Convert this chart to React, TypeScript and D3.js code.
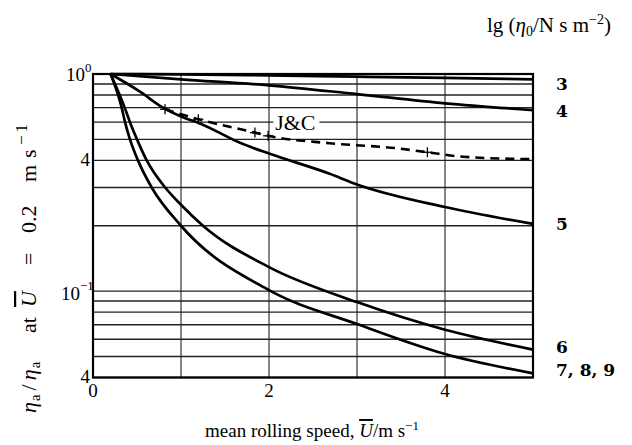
import React from "react";
import * as d3 from "d3";

// Speeds (m/s) and relative viscosity η_a/η_a(0.2 m/s) for each lg η0 family
const curve3X = [0.2, 1, 2, 3, 4, 5];
const curve3Y = [1.0, 0.995, 0.985, 0.972, 0.96, 0.945];

const curve4X = [0.2, 1, 2, 3, 4, 5];
const curve4Y = [1.0, 0.945, 0.887, 0.808, 0.733, 0.682];

const curve5X = [0.2, 0.534, 0.795, 1.0, 1.216, 1.67, 2, 2.69, 3, 4, 5];
const curve5Y = [1.0, 0.829, 0.70, 0.637, 0.592, 0.482, 0.43, 0.347, 0.31, 0.244, 0.204];

const curve6X = [0.2, 0.36, 0.42, 0.5, 0.61, 0.82, 1.0, 1.25, 2, 3, 4, 5];
const curve6Y = [1.0, 0.7, 0.6, 0.5, 0.4, 0.3, 0.25, 0.2, 0.129, 0.089, 0.0664, 0.0538];

const curve7X = [0.2, 0.326, 0.364, 0.42, 0.511, 0.667, 1.0, 2, 3, 4, 5];
const curve7Y = [1.0, 0.7, 0.6, 0.5, 0.4, 0.3, 0.2, 0.101, 0.0705, 0.0513, 0.0418];

// J&C measured points (crosses) and the dashed line through them
const jcX = [0.818, 1.197, 1.84, 1.99, 3.8];
const jcY = [0.688, 0.619, 0.537, 0.519, 0.436];
const jcLineX = [0.818, 1.197, 1.84, 1.99, 2.69, 3.45, 3.8, 4.2, 5];
const jcLineY = [0.688, 0.619, 0.537, 0.519, 0.48, 0.455, 0.436, 0.416, 0.405];

const xTicks = [0, 2, 4];
const xGrid = [1, 2, 3, 4];
const yGrid = [1, 0.9, 0.8, 0.7, 0.6, 0.5, 0.4, 0.3, 0.2, 0.1, 0.09, 0.08, 0.07, 0.06, 0.05, 0.04];

// lg η0 family labels at the right edge, with the level each is centred on
const curveLabels = ["3", "4", "5", "6", "7, 8, 9"];
const curveLabelY = [0.9, 0.676, 0.204, 0.0553, 0.0433];

const serif = "'Liberation Serif', 'Times New Roman', serif";
const boldSerif = "'DejaVu Serif', serif";

export default function App() {
  const W = 632;
  const H = 445;
  const x = d3.scaleLinear().domain([0, 5]).range([93, 533]);
  const y = d3.scaleLog().domain([0.04, 1]).range([377.5, 74]);

  const line = d3
    .line<[number, number]>()
    .x((d) => x(d[0]))
    .y((d) => y(d[1]))
    .curve(d3.curveMonotoneX);

  const zip = (xs: number[], ys: number[]) => xs.map((v, i) => [v, ys[i]] as [number, number]);

  const solid = [
    zip(curve3X, curve3Y),
    zip(curve4X, curve4Y),
    zip(curve5X, curve5Y),
    zip(curve6X, curve6Y),
    zip(curve7X, curve7Y),
  ];

  const [x0, x1] = x.range();
  const [yb, yt] = y.range();

  return (
    <svg
      width={W}
      height={H}
      viewBox={`0 0 ${W} ${H}`}
      style={{ position: "absolute", left: 0, top: 0, background: "#fff" }}
    >
      {/* horizontal grid */}
      {yGrid.map((v) => (
        <line key={"h" + v} x1={x0} x2={x1} y1={y(v)} y2={y(v)} stroke="#222" strokeWidth={1.4} />
      ))}
      {/* vertical grid */}
      {xGrid.map((v) => (
        <line key={"v" + v} x1={x(v)} x2={x(v)} y1={yt} y2={yb} stroke="#222" strokeWidth={1.1} />
      ))}
      {/* frame */}
      <rect x={x0} y={yt} width={x1 - x0} height={yb - yt} fill="none" stroke="#000" strokeWidth={2.2} />

      {/* J&C label over the grid */}
      <rect x={x(2.05)} y={y(0.6) - 10} width={46} height={20} fill="#fff" />
      <text x={x(2.07)} y={y(0.6) + 8} fontFamily={serif} fontSize={22} fill="#000">
        J&amp;C
      </text>

      {/* dashed J&C line */}
      <path
        d={line(zip(jcLineX, jcLineY)) || ""}
        fill="none"
        stroke="#000"
        strokeWidth={2.6}
        strokeDasharray="9 6"
      />
      {zip(jcX, jcY).map(([a, b], i) => (
        <g key={"c" + i} transform={`translate(${x(a)},${y(b)})`}>
          <line x1={-5} x2={5} y1={0} y2={0} stroke="#000" strokeWidth={1.3} />
          <line x1={0} x2={0} y1={-5} y2={5} stroke="#000" strokeWidth={1.3} />
        </g>
      ))}

      {/* solid curves */}
      {solid.map((pts, i) => (
        <path key={"s" + i} d={line(pts) || ""} fill="none" stroke="#000" strokeWidth={2.7} />
      ))}

      {/* y tick labels */}
      <text x={85} y={81} textAnchor="end" fontFamily={serif} fontSize={19}>10</text>
      <text x={85} y={72} fontFamily={serif} fontSize={13}>0</text>
      <text x={90} y={y(0.4) + 6} textAnchor="end" fontFamily={serif} fontSize={19}>4</text>
      <text x={80} y={y(0.1) + 9} textAnchor="end" fontFamily={serif} fontSize={19}>10</text>
      <text x={80} y={y(0.1) - 1} fontFamily={serif} fontSize={13}>−1</text>
      <text x={90} y={yb + 5} textAnchor="end" fontFamily={serif} fontSize={19}>4</text>

      {/* x tick labels */}
      {xTicks.map((v) => (
        <text key={"xt" + v} x={x(v)} y={397} textAnchor="middle" fontFamily={serif} fontSize={19}>
          {v}
        </text>
      ))}

      {/* curve family labels */}
      {curveLabels.map((t, i) => (
        <text
          key={"cl" + i}
          x={556}
          y={y(curveLabelY[i]) + 6}
          fontFamily={boldSerif}
          fontWeight="bold"
          fontSize={17}
        >
          {t}
        </text>
      ))}

      {/* header for the family labels */}
      <text x={487} y={32} fontFamily={serif} fontSize={21}>
        lg (<tspan fontStyle="italic">η</tspan>
        <tspan fontSize={14} dy={4}>0</tspan>
        <tspan dy={-4}>/N s m</tspan>
        <tspan fontSize={14} dy={-8}>−2</tspan>
        <tspan dy={8}>)</tspan>
      </text>

      {/* x axis title */}
      <text x={312} y={437} textAnchor="middle" fontFamily={serif} fontSize={19}>
        mean rolling speed,{" "}
        <tspan fontStyle="italic" textDecoration="overline">U</tspan>/m s
        <tspan fontSize={13} dy={-7}>−1</tspan>
      </text>

      {/* y axis title, laid out bottom-to-top */}
      <g transform="translate(36,0) rotate(-90)" fontFamily={serif} fontSize={22}>
        <text x={-413} y={0}>
          <tspan fontStyle="italic">η</tspan>
          <tspan fontSize={15} dy={4} dx={1}>a</tspan>
          <tspan dy={-4} dx={4}>/</tspan>
          <tspan fontStyle="italic" dx={4}>η</tspan>
          <tspan fontSize={15} dy={4} dx={1}>a</tspan>
        </text>
        <text x={-333} y={0}>at</text>
        <text x={-307} y={0} fontStyle="italic" textDecoration="overline">U</text>
        <text x={-265} y={0}>=</text>
        <text x={-233} y={0}>0.2</text>
        <text x={-182} y={0}>m</text>
        <text x={-158} y={0}>s</text>
        <text x={-145} y={-9} fontSize={17}>
          −<tspan dx={3}>1</tspan>
        </text>
      </g>
    </svg>
  );
}
